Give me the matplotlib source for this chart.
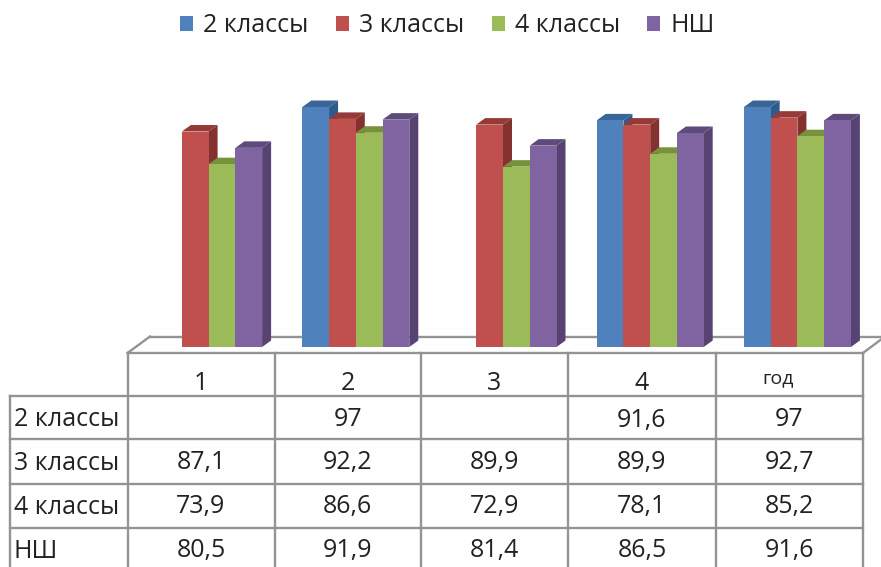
import numpy as np
import matplotlib
matplotlib.use("Agg")
import matplotlib.pyplot as plt
from matplotlib.patches import Polygon

plt.rcParams['font.family'] = ['Open Sans', 'DejaVu Sans']

categories = ['1', '2', '3', '4', 'год']
series_names = ['2 классы', '3 классы', '4 классы', 'НШ']
s2 = [np.nan, 97, np.nan, 91.6, 97]
s3 = [87.1, 92.2, 89.9, 89.9, 92.7]
s4 = [73.9, 86.6, 72.9, 78.1, 85.2]
sn = [80.5, 91.9, 81.4, 86.5, 91.6]
series = [s2, s3, s4, sn]
cell_text = [['', '97', '', '91,6', '97'],
             ['87,1', '92,2', '89,9', '89,9', '92,7'],
             ['73,9', '86,6', '72,9', '78,1', '85,2'],
             ['80,5', '91,9', '81,4', '86,5', '91,6']]

front = ['#4F81BD', '#C0504D', '#9BBB59', '#8064A2']
side = ['#2F5A8C', '#843230', '#6B8238', '#574371']
top = ['#3A6596', '#963A37', '#76923C', '#5F4A7C']

W, H = 881, 567
fig = plt.figure(figsize=(W / 100, H / 100), dpi=100, facecolor='white')

# pixel-space layer: floor and table
bg = fig.add_axes([0, 0, 1, 1], zorder=0)
bg.set_xlim(0, W); bg.set_ylim(H, 0); bg.axis('off')
GREY = '#939393'; LW = 1.7
col_x = [127.5, 274.5, 421, 568, 716, 863]
row_y = [353, 396, 439, 484, 528, H + 5]
left_x = 10
def line(xs, ys):
    bg.plot(xs, ys, color=GREY, lw=LW, solid_capstyle='projecting', clip_on=True)
line([150, W], [336.5, 336.5])
line([127.5, 150], [353, 336.5])
line([863, W + 2], [353, 338])
line([127.5, 863], [353, 353])
for x in col_x:
    line([x, x], [353, H + 5])
line([left_x, left_x], [396, H + 5])
for y in row_y[1:-1]:
    line([left_x, 863], [y, y])

FS = 18
col_c = [(col_x[i] + col_x[i + 1]) / 2 for i in range(5)]
for c, cat in zip(col_c, categories):
    if cat == 'год':
        bg.text(c - 11, 378, cat, ha='center', va='center', fontsize=14, color='#222222')
    else:
        bg.text(c, 383, cat, ha='center', va='center', fontsize=FS, color='#222222')
row_c = [420, 463, 507, 551]
for yc, name, vals in zip(row_c, series_names, cell_text):
    bg.text(14, yc, name, ha='left', va='center', fontsize=FS, color='#222222')
    for c, v in zip(col_c, vals):
        if v:
            bg.text(c, yc, v, ha='center', va='center', fontsize=FS, color='#222222')

# chart layer in data units
PX_CAT, X0 = 147.2, 208.6
PX_VAL, Y0 = 2.474, 347
ax = fig.add_axes([0, 0, 1, 1], zorder=1)
ax.patch.set_alpha(0)
ax.set_xlim(-X0 / PX_CAT, (W - X0) / PX_CAT)
ax.set_ylim((Y0 - H) / PX_VAL, Y0 / PX_VAL)
ax.axis('off')
bw = 26.75 / PX_CAT
dx, dy = 9 / PX_CAT, 6.5 / PX_VAL
x = np.arange(len(categories))
handles = []
for k, vals in enumerate(series):
    off = (k - 1.5) * bw
    for i, v in enumerate(vals):
        if np.isnan(v):
            continue
        l, r = x[i] + off - bw / 2, x[i] + off + bw / 2
        ax.add_patch(Polygon([(r, 0), (r + dx, dy), (r + dx, v + dy), (r, v)],
                             fc=side[k], ec='none', zorder=2 + k))
        ax.add_patch(Polygon([(l, v), (l + dx, v + dy), (r + dx, v + dy), (r, v)],
                             fc=top[k], ec='none', zorder=2 + k))
    b = ax.bar(x + off, vals, width=bw, color=front[k], zorder=2.5 + k,
               label=series_names[k])
    handles.append(b)

ax.legend(handles=handles, labels=series_names, ncol=4, loc='center',
          bbox_to_anchor=(447.5 / W, 1 - 26 / H), frameon=False, fontsize=18,
          handlelength=0.52, handleheight=0.52, handletextpad=0.42,
          columnspacing=1.08, borderpad=0, labelcolor='#222222')

fig.savefig('out.png', dpi=100)
